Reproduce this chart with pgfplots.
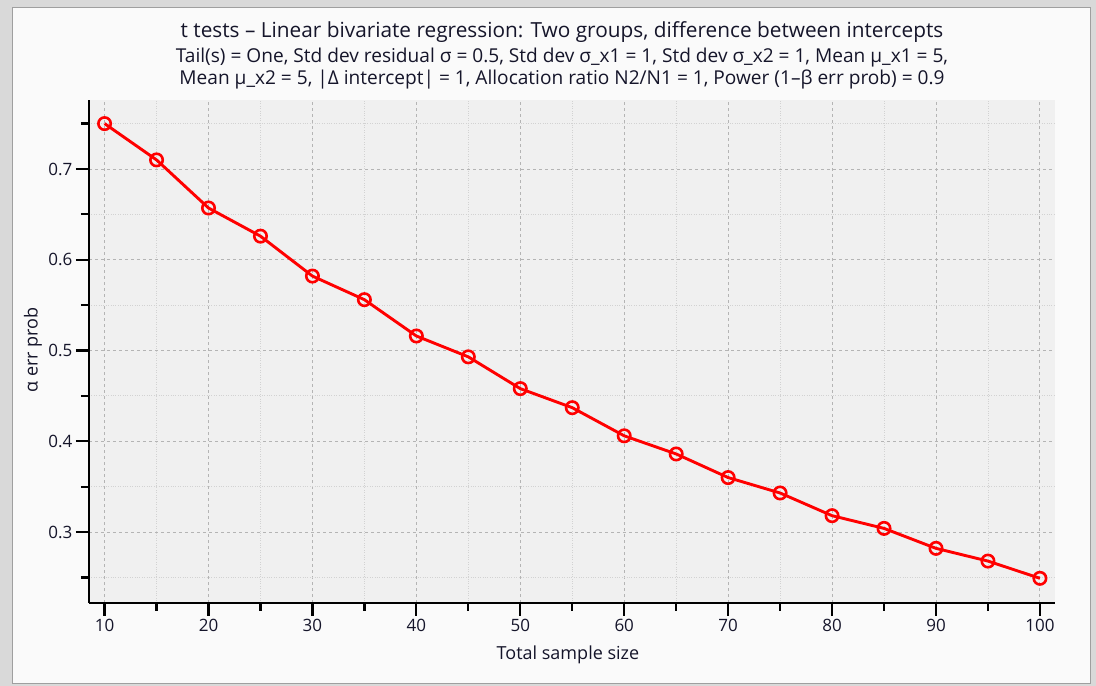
\documentclass[border=0pt]{standalone}
\usepackage{fontspec}
\setmainfont{Open Sans}
\usepackage{pgfplots}
\pgfplotsset{compat=1.18}
\definecolor{txt}{HTML}{15152A}
\definecolor{plotbg}{HTML}{F0F0F0}
\definecolor{winbg}{HTML}{FAFAFA}
\definecolor{gridmaj}{HTML}{B4B4B4}
\definecolor{gridmin}{HTML}{D2D2D2}
\begin{document}
\begin{tikzpicture}[x=1pt,y=1pt]
% pixel (px,py) -> (px-89, 603-py)
\path[use as bounding box] (-89,-83) rectangle (1007,603);
\fill[gray!30] (-89,-83) rectangle (1007,603);
\fill[winbg, draw=gray!75, line width=1pt] (-76,-80) rectangle (1001,595);
\begin{axis}[
    at={(0,0)}, anchor=south west,
    scale only axis, width=966pt, height=503pt,
    xmin=8.5, xmax=101.45, ymin=0.2218, ymax=0.776,
    axis x line=bottom, axis y line=left,
    axis line style={line width=2.5pt, black, -},
    axis background/.style={fill=plotbg},
    xtick={10,20,...,100}, minor xtick={15,25,...,95},
    ytick={0.3,0.4,0.5,0.6,0.7}, minor ytick={0.25,0.35,0.45,0.55,0.65,0.75},
    tick align=outside,
    major tick length=13pt, minor tick length=8pt,
    every tick/.style={black, line width=2.2pt},
    grid=both,
    major grid style={gridmaj, dashed, line width=0.9pt},
    minor grid style={gridmin, dotted, line width=0.9pt},
    tick label style={font=\fontsize{17}{20}\selectfont, text=txt},
    /pgf/number format/assume math mode=true,
    yticklabel style={/pgf/number format/fixed, /pgf/number format/precision=1},
    clip=false,
  ]
  \addplot[red, line width=2.9pt, mark=o, mark size=6.2pt,
    mark options={fill=white, line width=2.6pt}]
    coordinates {
    (10,0.750) (15,0.710) (20,0.657) (25,0.626) (30,0.582)
    (35,0.556) (40,0.516) (45,0.493) (50,0.458) (55,0.437)
    (60,0.406) (65,0.386) (70,0.360) (75,0.343) (80,0.318)
    (85,0.304) (90,0.282) (95,0.268) (100,0.249)
    };
\end{axis}
\node[text=txt, font=\fontsize{20.8}{24}\selectfont] at (473,571)
  {t tests – Linear bivariate regression: Two groups, difference between intercepts};
\node[text=txt, font=\fontsize{19.1}{22}\selectfont] at (473,545)
  {Tail(s) = One, Std dev residual σ = 0.5, Std dev σ\_x1 = 1, Std dev σ\_x2 = 1, Mean μ\_x1 = 5,};
\node[text=txt, font=\fontsize{19.1}{22}\selectfont] at (473,523)
  {Mean μ\_x2 = 5, |Δ intercept| = 1, Allocation ratio N2/N1 = 1, Power (1–β err prob) = 0.9};
\node[text=txt, font=\fontsize{18}{22}\selectfont, rotate=90] at (-56,253) {α err prob};
\node[text=txt, font=\fontsize{18}{22}\selectfont] at (479,-52) {Total sample size};
\end{tikzpicture}
\end{document}
